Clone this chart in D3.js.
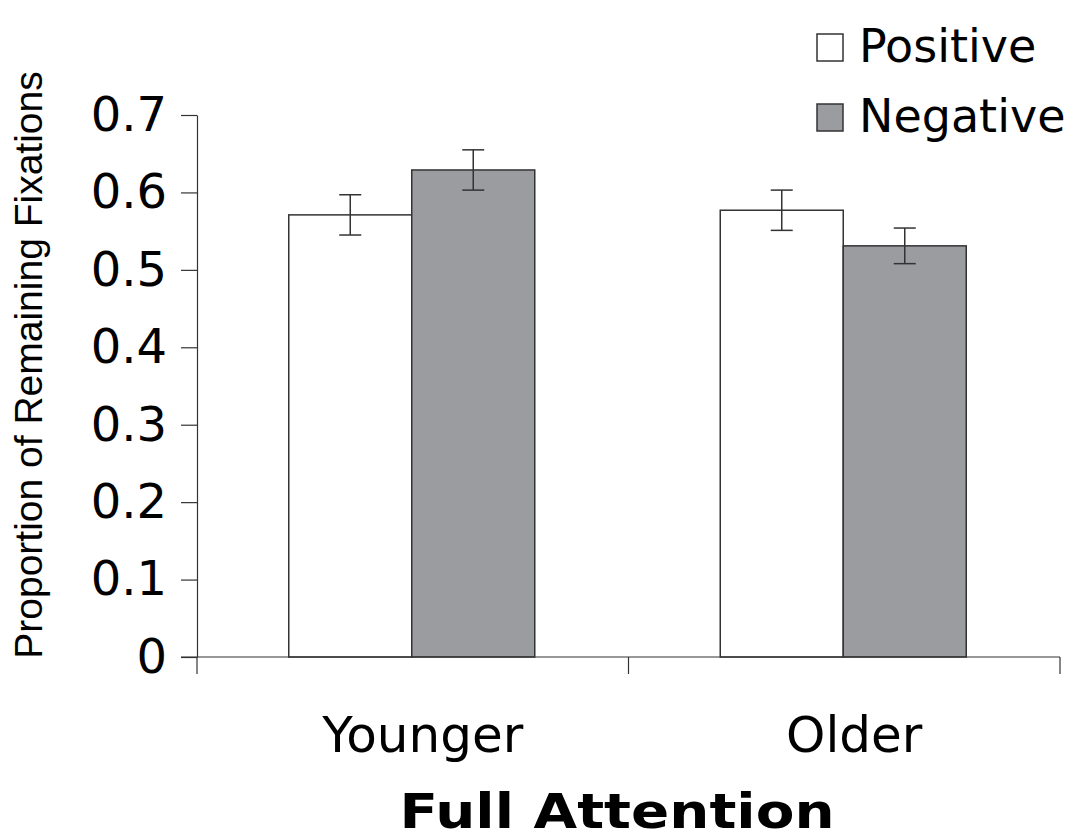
<!DOCTYPE html>
<html>
<head>
<meta charset="utf-8">
<script src="https://cdn.jsdelivr.net/npm/d3@7"></script>
<style>
  html, body { margin: 0; padding: 0; background: #fff; }
  svg { display: block; }
</style>
</head>
<body>
<svg id="chart" width="1071" height="838"></svg>
<script>
// ---- data ----
const categories = ["Younger", "Older"];
const seriesNames = ["Positive", "Negative"];
const positiveValues = [0.571, 0.577];
const negativeValues = [0.629, 0.531];
const positiveErrors = [0.026, 0.026];
const negativeErrors = [0.026, 0.023];
const yTicks = [0, 0.1, 0.2, 0.3, 0.4, 0.5, 0.6, 0.7];
const xTitle = "Full Attention";
const yTitle = "Proportion of Remaining Fixations";

// ---- layout ----
const svg = d3.select("#chart");
const plot = { left: 197, right: 1060, top: 115, bottom: 657 };
const seriesFill = { Positive: "#ffffff", Negative: "#9b9c9f" };
const ink = "#333";

const y = d3.scaleLinear().domain([0, 0.7]).range([plot.bottom, plot.top]);
const x0 = d3.scaleBand().domain(categories).range([plot.left, plot.right]).padding(0);
const bw = x0.bandwidth();
const barW = 123;
const x1 = d3.scaleBand().domain(seriesNames).range([bw / 2 - barW, bw / 2 + barW]).padding(0);

const rows = [];
categories.forEach((c, i) => {
  rows.push({ cat: c, s: "Positive", v: positiveValues[i], e: positiveErrors[i] });
  rows.push({ cat: c, s: "Negative", v: negativeValues[i], e: negativeErrors[i] });
});

// bars
svg.append("g").selectAll("rect").data(rows).join("rect")
  .attr("x", d => x0(d.cat) + x1(d.s) - 1)
  .attr("y", d => y(d.v))
  .attr("width", x1.bandwidth())
  .attr("height", d => y(0) - y(d.v))
  .attr("fill", d => seriesFill[d.s])
  .attr("stroke", ink)
  .attr("stroke-width", 1.5);

// error bars
const capW = 11;
const eg = svg.append("g").attr("stroke", ink).attr("stroke-width", 1.5);
rows.forEach(d => {
  const cx = x0(d.cat) + x1(d.s) + x1.bandwidth() / 2 - 1;
  eg.append("line").attr("x1", cx).attr("x2", cx).attr("y1", y(d.v + d.e)).attr("y2", y(d.v - d.e));
  eg.append("line").attr("x1", cx - capW).attr("x2", cx + capW).attr("y1", y(d.v + d.e)).attr("y2", y(d.v + d.e));
  eg.append("line").attr("x1", cx - capW).attr("x2", cx + capW).attr("y1", y(d.v - d.e)).attr("y2", y(d.v - d.e));
});

// y axis
const yAxis = d3.axisLeft(y).tickValues(yTicks).tickSize(16).tickSizeOuter(0).tickPadding(14)
  .tickFormat(d => d === 0 ? "0" : d3.format(".1f")(d));
const yg = svg.append("g").attr("transform", `translate(${plot.left},0)`).call(yAxis);
yg.selectAll("path, line").attr("stroke", ink).attr("stroke-width", 1.2);
yg.selectAll("text").attr("font-family", "DejaVu Sans, Verdana, sans-serif").attr("font-size", 48).attr("fill", "#000");

// x axis baseline & category ticks
const xg = svg.append("g").attr("stroke", ink).attr("stroke-width", 1.2);
xg.append("line").attr("x1", plot.left - 16).attr("x2", plot.right).attr("y1", y(0)).attr("y2", y(0));
const xTickPos = categories.map(c => x0(c)).concat([x0(categories[categories.length - 1]) + bw]);
xTickPos.forEach(px => {
  xg.append("line").attr("x1", px).attr("x2", px).attr("y1", y(0)).attr("y2", y(0) + 17);
});

// category labels
svg.append("g").selectAll("text").data(categories).join("text")
  .attr("x", d => x0(d) + bw / 2 + 10)
  .attr("y", 752)
  .attr("text-anchor", "middle")
  .attr("font-family", "DejaVu Sans, Verdana, sans-serif")
  .attr("font-size", 50)
  .attr("fill", "#000")
  .text(d => d);

// x title
svg.append("text")
  .attr("x", 617).attr("y", 828)
  .attr("text-anchor", "middle")
  .attr("font-family", "DejaVu Sans, Verdana, sans-serif")
  .attr("font-weight", "bold")
  .attr("font-size", 48)
  .attr("textLength", 435)
  .attr("lengthAdjust", "spacingAndGlyphs")
  .attr("fill", "#000")
  .text(xTitle);

// y title
svg.append("text")
  .attr("transform", "translate(42,365) rotate(-90)")
  .attr("text-anchor", "middle")
  .attr("font-family", "Liberation Sans, Arial, sans-serif")
  .attr("font-size", 39)
  .attr("fill", "#000")
  .text(yTitle);

// legend
const lg = svg.append("g");
seriesNames.forEach((s, i) => {
  const top = 34 + i * 70;
  lg.append("rect").attr("x", 817).attr("y", top).attr("width", 26).attr("height", 27)
    .attr("fill", seriesFill[s]).attr("stroke", ink).attr("stroke-width", 1.5);
  lg.append("text").attr("x", 859).attr("y", top + 28)
    .attr("font-family", "DejaVu Sans, Verdana, sans-serif")
    .attr("font-size", 46).attr("fill", "#000").text(s);
});
</script>
</body>
</html>
